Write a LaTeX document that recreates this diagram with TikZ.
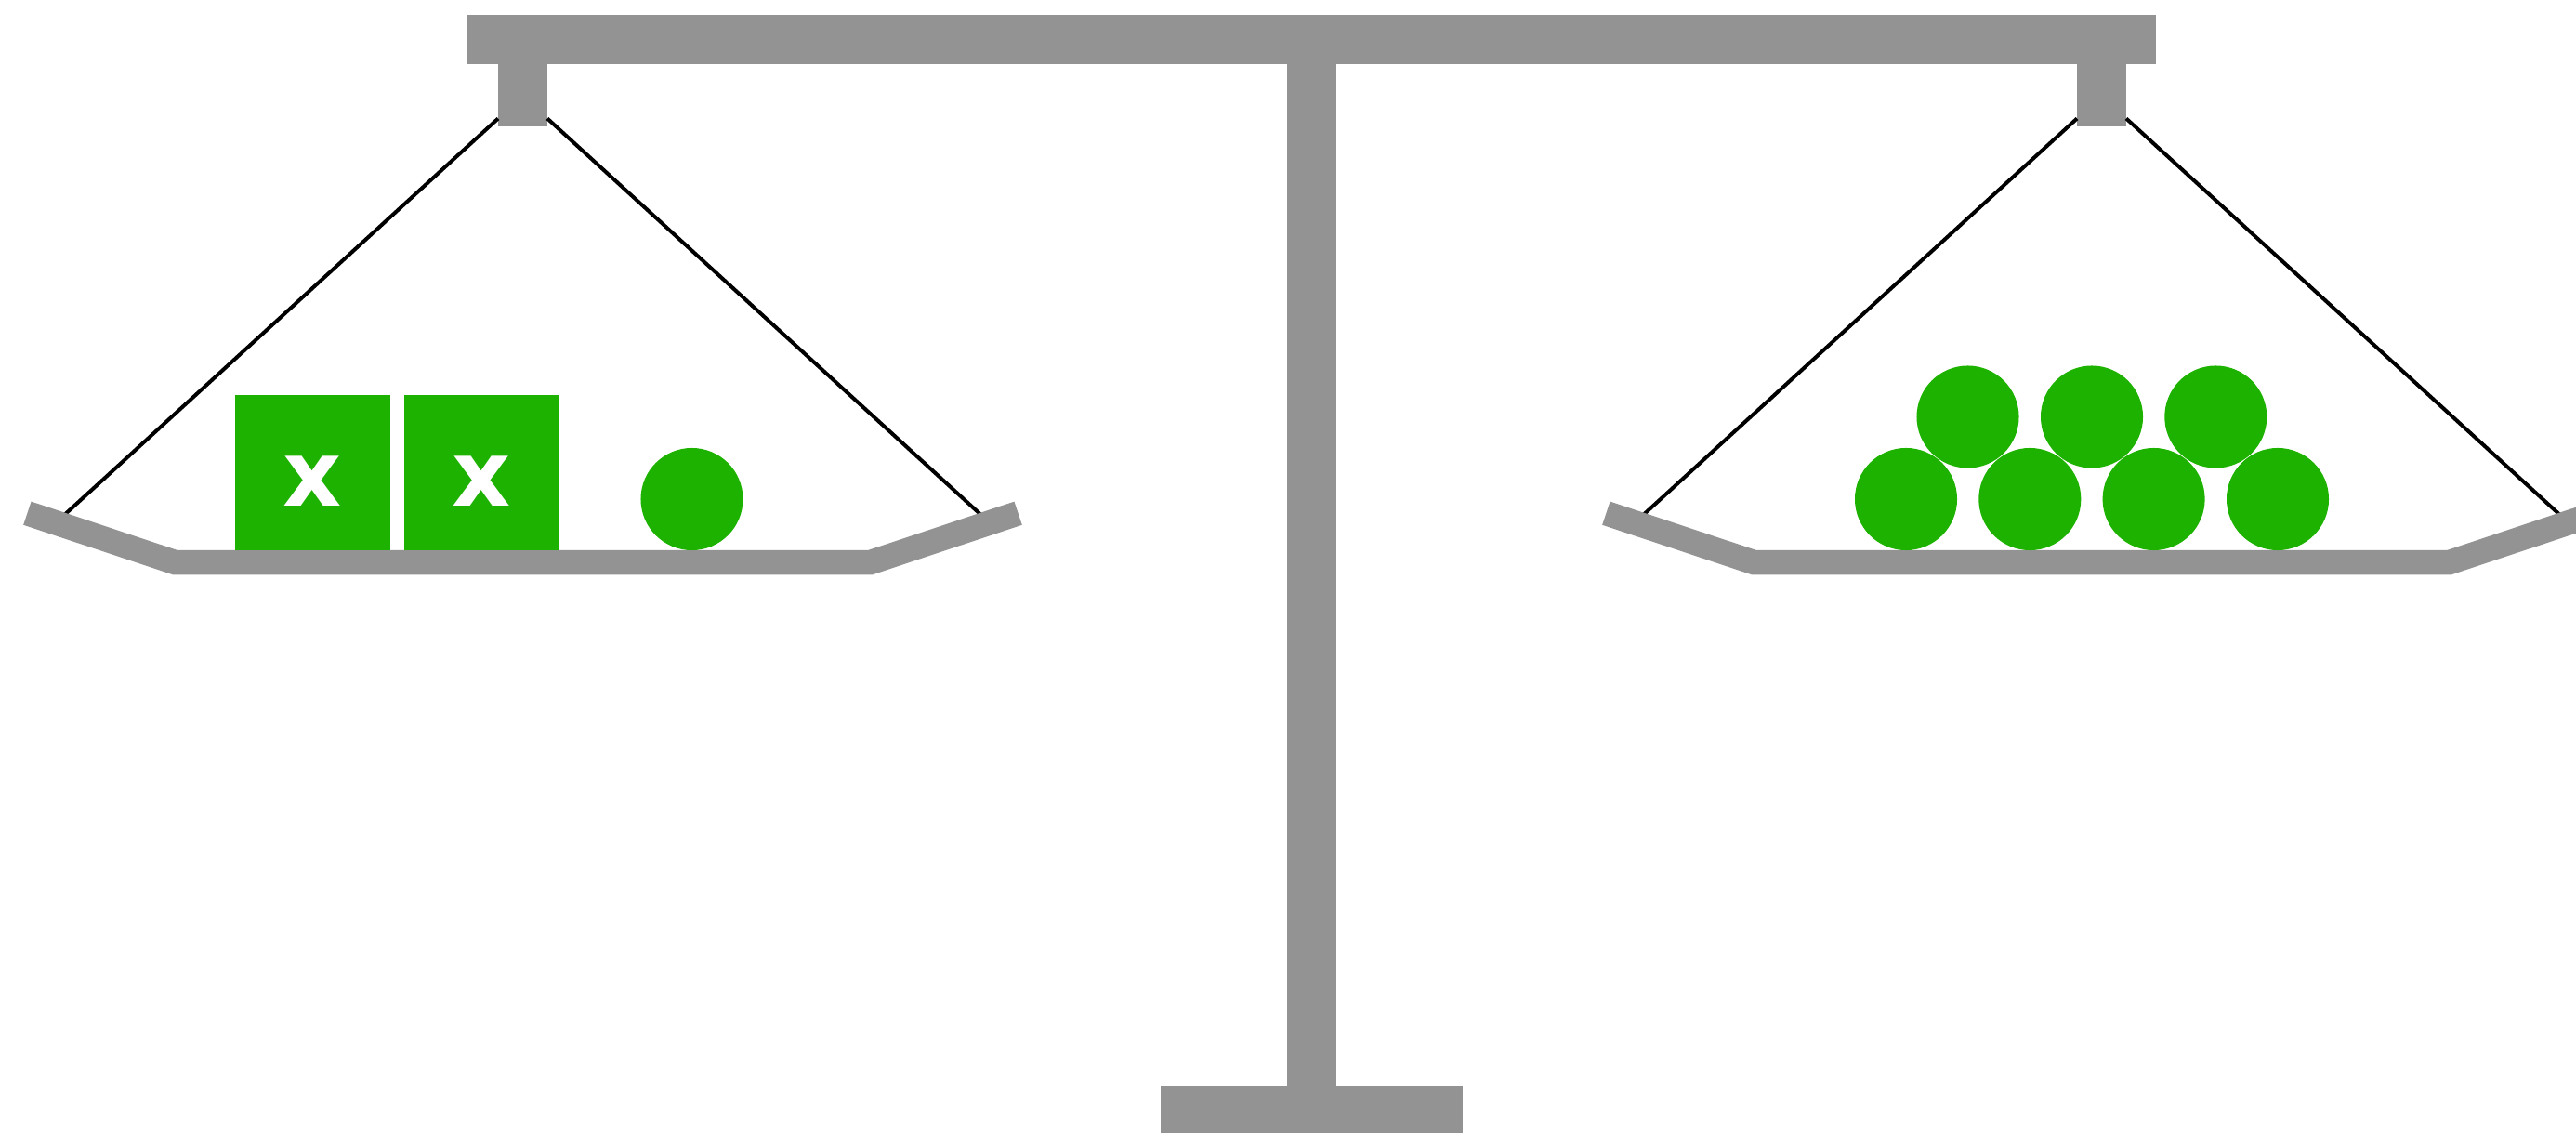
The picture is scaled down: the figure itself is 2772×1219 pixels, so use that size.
\documentclass[tikz,border=0pt]{standalone}
\usepackage{fontspec}
\setsansfont{DejaVu Sans}
\usetikzlibrary{positioning}
\definecolor{scalegray}{RGB}{147,147,147}
\definecolor{weightgreen}{RGB}{30,178,0}

\begin{document}
\begin{tikzpicture}[
  x=0.01cm, y=-0.01cm,
  bar/.style={fill=scalegray, draw=none, inner sep=0pt, outer sep=0pt},
  hook/.style={bar, minimum width=0.53cm, minimum height=0.67cm},
  pan/.style={draw=scalegray, line width=0.265cm},
  cord/.style={draw=black, line width=0.04cm},
  xbox/.style={fill=weightgreen, inner sep=0pt, outer sep=0pt, minimum size=1.67cm, text=white,
    font=\sffamily\bfseries\fontsize{27.9}{28}\selectfont, text height=0.72cm, text depth=0pt},
  ball/.style={circle, fill=weightgreen, inner sep=0pt, minimum size=1.1cm}
]
\useasboundingbox (0,0) rectangle (2772,1219);
\clip (0,0) rectangle (2772,1219);

% stand
\node[bar, minimum width=18.16cm, minimum height=0.533cm] (beam) at (1411.5,42.65) {};
\node[bar, below=0pt of beam, minimum width=0.534cm, minimum height=10.98cm] (post) {};
\node[bar, below=0pt of post, minimum width=3.254cm, minimum height=0.53cm] (base) {};
\node[hook, anchor=north] (hookL) at (562.5,68.5) {};
\node[hook, anchor=north] (hookR) at (2261.5,68.5) {};

% strings
\coordinate (endL1) at (66,557);
\coordinate (endL2) at (1059,557);
\coordinate (endR1) at (1765,557);
\coordinate (endR2) at (2758,557);
\draw[cord] ([yshift=0.08cm]hookL.south west) -- (endL1);
\draw[cord] ([yshift=0.08cm]hookL.south east) -- (endL2);
\draw[cord] ([yshift=0.08cm]hookR.south west) -- (endR1);
\draw[cord] ([yshift=0.08cm]hookR.south east) -- (endR2);

% pans
\draw[pan] (29.4,552.2) -- (188.7,605.2) -- (936.3,605.2) -- (1095.6,552.2);
\draw[pan] (1728.4,552.2) -- (1887.7,605.2) -- (2635.3,605.2) -- (2794.6,552.2);

% left pan: unknowns and one unit
\node[xbox] (x1) at (336.5,508.2) {x};
\node[xbox, right=0.15cm of x1] (x2) {x};
\node[ball] (u1) at (744.5,537) {};

% right pan: seven units
\node[ball] (r1) at (2051,537) {};
\node[ball] (r2) at (2184.3,537) {};
\node[ball] (r3) at (2317.6,537) {};
\node[ball] (r4) at (2451,537) {};
\node[ball] (r5) at (2117.5,448.5) {};
\node[ball] (r6) at (2251,448.5) {};
\node[ball] (r7) at (2384.3,448.5) {};

\end{tikzpicture}
\end{document}
